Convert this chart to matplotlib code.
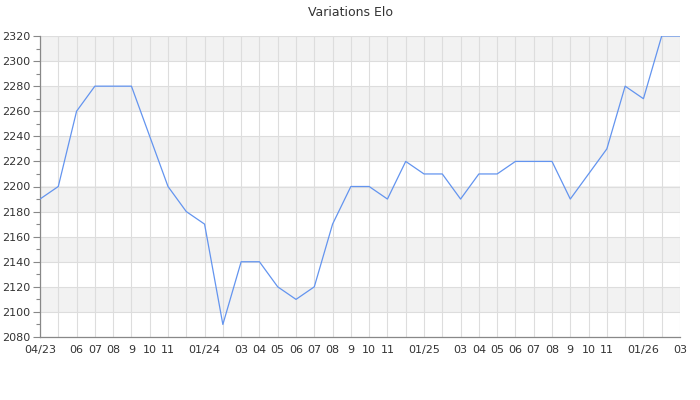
import matplotlib
matplotlib.use("Agg")
import matplotlib.pyplot as plt
import numpy as np

# monthly Elo, 04/2023 -> 03/2026
elo = [2190, 2200, 2260, 2280, 2280, 2280, 2240, 2200, 2180, 2170,
       2090, 2140, 2140, 2120, 2110, 2120, 2170, 2200, 2200, 2190,
       2220, 2210, 2210, 2190, 2210, 2210, 2220, 2220, 2220, 2190,
       2210, 2230, 2280, 2270, 2320, 2320]
month_labels = ["04/23", "", "06", "07", "08", "9", "10", "11", "", "01/24",
                "", "03", "04", "05", "06", "07", "08", "9", "10", "11",
                "", "01/25", "", "03", "04", "05", "06", "07", "08", "9",
                "10", "11", "", "01/26", "", "03"]
y_ticks = list(range(2080, 2321, 20))

fig = plt.figure(figsize=(7, 4), dpi=100)
ax = fig.add_axes([40 / 700, 1 - 337 / 400, 640 / 700, 301 / 400])

x = np.arange(len(elo))

# alternating bands
for k, lo in enumerate(y_ticks[:-1]):
    if k % 2 == 1:
        ax.axhspan(lo, lo + 20, color="#f2f2f2", zorder=0, lw=0)

ax.plot(x, elo, color="#6394ef", lw=0.9, zorder=3)

ax.set_xlim(0, len(elo) - 1)
ax.set_ylim(2080, 2320)
ax.set_xticks(x)
ax.set_xticklabels(month_labels)
ax.set_yticks(y_ticks)
ax.set_yticks(range(2090, 2320, 20), minor=True)
ax.grid(True, which="major", color="#dddddd", lw=0.8, zorder=1)
ax.set_axisbelow(True)

ax.tick_params(axis="x", length=0, labelsize=8, colors="#333333", pad=6)
ax.tick_params(axis="y", which="major", length=5, width=0.8, color="#888888",
               labelsize=8, labelcolor="#333333", pad=2)
ax.tick_params(axis="y", which="minor", length=3, width=0.8, color="#888888")

for side in ["top", "right"]:
    ax.spines[side].set_visible(False)
for side in ["left", "bottom"]:
    ax.spines[side].set_color("#888888")
    ax.spines[side].set_linewidth(0.9)

fig.text(0.5, 1 - 12 / 400, "Variations Elo", ha="center", va="center",
         fontsize=9, color="#333333")

fig.savefig("out.png", dpi=100)
